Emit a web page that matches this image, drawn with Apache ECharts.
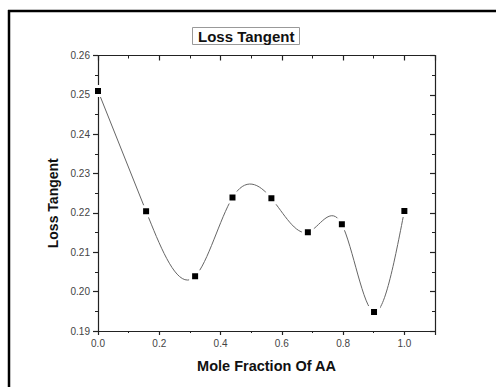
<!DOCTYPE html>
<html>
<head>
<meta charset="utf-8">
<script src="https://cdn.jsdelivr.net/npm/echarts@6/dist/echarts.min.js"></script>
<style>
  html, body { margin: 0; padding: 0; background: #fff; }
  #chart { width: 496px; height: 387px; }
</style>
</head>
<body>
<div id="chart"></div>
<script>
  var moleFraction = [0, 0.157, 0.317, 0.439, 0.566, 0.685, 0.796, 0.901, 1.0];
  var lossTangent = [0.251, 0.2204, 0.2039, 0.2239, 0.2237, 0.2151, 0.2171, 0.1948, 0.2205];
  var xRange = [0, 1.1];
  var yRange = [0.19, 0.26];

  var font = '"Liberation Sans", Arial, sans-serif';
  var pts = moleFraction.map(function(x, i) { return [x, lossTangent[i]]; });

  // slopes of a natural cubic spline through the data (Origin-style "spline" connector)
  function splineSlopes(xs, ys) {
    var n = xs.length, h = [], i;
    for (i = 0; i < n - 1; i++) h.push(xs[i + 1] - xs[i]);
    var a = [], b = [], c = [], d = [];
    for (i = 0; i < n; i++) {
      if (i === 0 || i === n - 1) { a.push(0); b.push(1); c.push(0); d.push(0); continue; }
      a.push(h[i - 1]);
      b.push(2 * (h[i - 1] + h[i]));
      c.push(h[i]);
      d.push(6 * ((ys[i + 1] - ys[i]) / h[i] - (ys[i] - ys[i - 1]) / h[i - 1]));
    }
    for (i = 1; i < n; i++) {
      var w = a[i] / b[i - 1];
      b[i] -= w * c[i - 1];
      d[i] -= w * d[i - 1];
    }
    var M = new Array(n);
    M[n - 1] = d[n - 1] / b[n - 1];
    for (i = n - 2; i >= 0; i--) M[i] = (d[i] - c[i] * M[i + 1]) / b[i];
    var m = [];
    for (i = 0; i < n - 1; i++) m.push((ys[i + 1] - ys[i]) / h[i] - h[i] * (2 * M[i] + M[i + 1]) / 6);
    var k = n - 2;
    m.push((ys[k + 1] - ys[k]) / h[k] + h[k] * (M[k] + 2 * M[k + 1]) / 6);
    return m;
  }
  var slopes = splineSlopes(moleFraction, lossTangent);

  function renderSpline(params, api) {
    if (params.dataIndex !== 0) return null;
    var p0 = api.coord(pts[0]);
    var d = 'M' + p0[0] + ',' + p0[1];
    for (var i = 0; i < pts.length - 1; i++) {
      var x0 = moleFraction[i], x1 = moleFraction[i + 1];
      var y0 = lossTangent[i], y1 = lossTangent[i + 1];
      var hh = (x1 - x0) / 3;
      var c1 = api.coord([x0 + hh, y0 + slopes[i] * hh]);
      var c2 = api.coord([x1 - hh, y1 - slopes[i + 1] * hh]);
      var e = api.coord([x1, y1]);
      d += ' C' + c1[0] + ',' + c1[1] + ' ' + c2[0] + ',' + c2[1] + ' ' + e[0] + ',' + e[1];
    }
    return {
      type: 'path',
      shape: { pathData: d },
      style: { fill: null, stroke: '#666', lineWidth: 1 }
    };
  }

  var chart = echarts.init(document.getElementById('chart'), null, { renderer: 'svg' });

  // mirror axes (top / right) with inward ticks, no labels
  function mirror(pos, isX) {
    return {
      type: 'value',
      position: pos,
      min: isX ? xRange[0] : yRange[0],
      max: isX ? xRange[1] : yRange[1],
      interval: isX ? 0.2 : 0.01,
      axisLine: { show: true, onZero: false, lineStyle: { color: '#222', width: 1.2 } },
      axisTick: { show: true, inside: true, length: 5, lineStyle: { color: '#222', width: 1.2 } },
      minorTick: { show: true, splitNumber: 2, length: 3, lineStyle: { color: '#222' } },
      axisLabel: { show: false },
      splitLine: { show: false }
    };
  }

  chart.setOption({
    animation: false,
    backgroundColor: '#fff',
    title: {
      text: 'Loss Tangent',
      left: 192,
      top: 27,
      padding: [2, 5, 1, 6],
      borderColor: '#999',
      borderWidth: 1,
      textStyle: { fontFamily: font, fontSize: 15, fontWeight: 'bold', color: '#111' }
    },
    grid: { left: 98, right: 61, top: 55.5, bottom: 56 },
    xAxis: [{
      type: 'value',
      position: 'bottom',
      min: xRange[0],
      max: xRange[1],
      interval: 0.2,
      name: 'Mole Fraction Of AA',
      nameLocation: 'middle',
      nameGap: 27,
      nameTextStyle: { fontFamily: font, fontSize: 14.5, fontWeight: 'bold', color: '#111' },
      axisLine: { show: true, onZero: false, lineStyle: { color: '#222', width: 1.2 } },
      axisTick: { show: true, inside: false, length: 4, lineStyle: { color: '#222', width: 1.2 } },
      minorTick: { show: true, splitNumber: 2, length: 2, lineStyle: { color: '#222' } },
      axisLabel: {
        fontFamily: font, fontSize: 10, color: '#444', margin: 7,
        formatter: function(v) { return v > 1.05 ? '' : v.toFixed(1); }
      },
      splitLine: { show: false }
    }, mirror('top', true)],
    yAxis: [{
      type: 'value',
      position: 'left',
      min: yRange[0],
      max: yRange[1],
      interval: 0.01,
      name: 'Loss Tangent',
      nameLocation: 'middle',
      nameGap: 35,
      nameRotate: 90,
      nameTextStyle: { fontFamily: font, fontSize: 14, fontWeight: 'bold', color: '#111', padding: [0, 20, 0, 0] },
      axisLine: { show: true, onZero: false, lineStyle: { color: '#222', width: 1.2 } },
      axisTick: { show: true, inside: false, length: 5, lineStyle: { color: '#222', width: 1.2 } },
      minorTick: { show: true, splitNumber: 2, length: 3, lineStyle: { color: '#222' } },
      axisLabel: {
        fontFamily: font, fontSize: 10, color: '#444', margin: 8,
        formatter: function(v) { return v.toFixed(2); }
      },
      splitLine: { show: false }
    }, mirror('right', false)],
    graphic: [
      { type: 'line', shape: { x1: 8, y1: 11, x2: 496, y2: 11 }, style: { stroke: '#000', lineWidth: 2.5 } },
      { type: 'line', shape: { x1: 9, y1: 10, x2: 9, y2: 387 }, style: { stroke: '#000', lineWidth: 2.5 } }
    ],
    series: [{
      type: 'custom',
      data: pts,
      renderItem: renderSpline,
      z: 2
    }, {
      type: 'scatter',
      data: pts,
      symbol: 'rect',
      symbolSize: 9,
      itemStyle: { color: '#000', borderColor: '#fff', borderWidth: 3, opacity: 1 },
      z: 3
    }]
  });
</script>
</body>
</html>
